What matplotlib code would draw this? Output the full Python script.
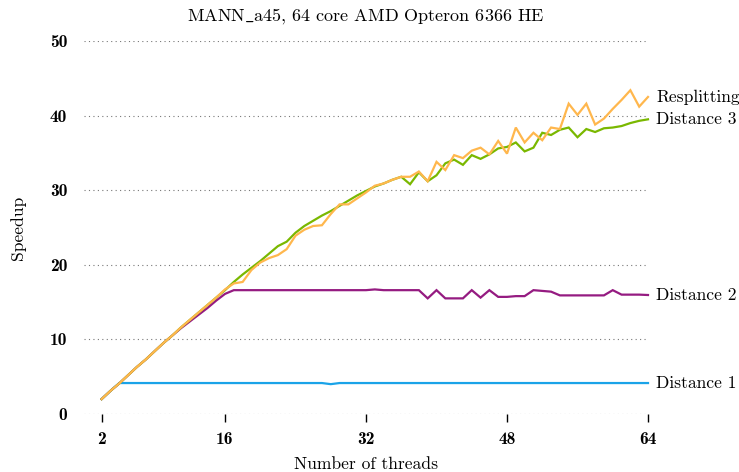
import numpy as np
import matplotlib
matplotlib.use("Agg")
import matplotlib.pyplot as plt

plt.rcParams["mathtext.fontset"] = "cm"

threads = list(range(2, 65))

distance_1 = [2.0, 3.1] + [4.15] * 24 + [4.0] + [4.15] * 36

distance_2 = [
    2.0, 3.1, 4.1, 5.2, 6.3, 7.3, 8.4, 9.5, 10.5, 11.5,            # 2-11
    12.4, 13.3, 14.2, 15.2, 16.1, 16.6, 16.6, 16.6, 16.6, 16.6,     # 12-21
    16.6, 16.6, 16.6, 16.6, 16.6, 16.6, 16.6, 16.6, 16.6, 16.6,     # 22-31
    16.6, 16.7, 16.6, 16.6, 16.6, 16.6, 16.6, 15.5, 16.6, 15.5,     # 32-41
    15.5, 15.5, 16.6, 15.6, 16.6, 15.7, 15.7, 15.8, 15.8, 16.6,     # 42-51
    16.5, 16.4, 15.9, 15.9, 15.9, 15.9, 15.9, 15.9, 16.6, 16.0,     # 52-61
    16.0, 16.0, 15.95,                                             # 62-64
]

distance_3 = [
    2.0, 3.1, 4.1, 5.2, 6.3, 7.3, 8.4, 9.5, 10.5, 11.6,            # 2-11
    12.6, 13.6, 14.6, 15.6, 16.6, 17.7, 18.7, 19.6, 20.5, 21.5,     # 12-21
    22.5, 23.1, 24.3, 25.2, 25.9, 26.6, 27.2, 27.9, 28.6, 29.3,     # 22-31
    29.9, 30.5, 30.9, 31.4, 31.8, 30.8, 32.4, 31.2, 32.0, 33.6,     # 32-41
    34.1, 33.4, 34.7, 34.2, 34.8, 35.6, 35.8, 36.4, 35.2, 35.7,     # 42-51
    37.7, 37.4, 38.1, 38.4, 37.1, 38.2, 37.8, 38.3, 38.4, 38.6,     # 52-61
    39.0, 39.3, 39.5,                                              # 62-64
]

resplitting = [
    2.0, 3.1, 4.1, 5.2, 6.3, 7.3, 8.4, 9.5, 10.5, 11.6,            # 2-11
    12.6, 13.6, 14.6, 15.6, 16.7, 17.5, 17.7, 19.3, 20.3, 20.9,     # 12-21
    21.3, 22.1, 23.9, 24.7, 25.2, 25.3, 26.8, 28.1, 28.1, 28.9,     # 22-31
    29.7, 30.6, 30.9, 31.4, 31.8, 31.8, 32.5, 31.2, 33.8, 32.7,     # 32-41
    34.7, 34.3, 35.3, 35.7, 34.8, 36.6, 34.9, 38.4, 36.4, 37.7,     # 42-51
    36.7, 38.4, 38.2, 41.6, 40.1, 41.6, 38.8, 39.6, 40.9, 42.1,     # 52-61
    43.4, 41.2, 42.5,                                              # 62-64
]

series = [
    ("Distance 1", distance_1, "#1aa3e8"),
    ("Distance 2", distance_2, "#951b81"),
    ("Distance 3", distance_3, "#7ab800"),
    ("Resplitting", resplitting, "#ffb74d"),
]

x_ticks = [2, 16, 32, 48, 64]
y_ticks = [0, 10, 20, 30, 40, 50]

FS = 12.6

fig = plt.figure(figsize=(7.39, 4.72), dpi=100)
ax = fig.add_axes([84 / 739, 1 - 414 / 472, (648 - 84) / 739, (414 - 41) / 472])

for name, values, color in series:
    ax.plot(threads, values, color=color, linewidth=1.6, solid_joinstyle="miter",
            clip_on=False)
    ax.text(threads[-1] + 0.9, values[-1], name, family="cmr10", fontsize=FS,
            va="center", ha="left")

ax.set_xlim(0, 64)
ax.set_ylim(0, 50)
ax.set_xticks(x_ticks)
ax.set_yticks(y_ticks)
for lbl in ax.get_xticklabels() + ax.get_yticklabels():
    lbl.set_family("cmb10")
    lbl.set_fontsize(FS)

ax.tick_params(axis="x", direction="out", length=6, width=1.0, pad=7)
ax.tick_params(axis="y", length=0, pad=12)
for s in ax.spines.values():
    s.set_visible(False)

ax.yaxis.grid(True, linestyle=(0, (1, 3)), linewidth=0.8, color="#777777")
ax.set_axisbelow(True)

ax.set_xlabel("Number of threads", family="cmr10", fontsize=FS, labelpad=7)
ax.set_ylabel("Speedup", family="cmr10", fontsize=FS, labelpad=17)
ax.set_title(r"MANN$\_$a45, 64 core AMD Opteron 6366 HE", family="cmr10",
             fontsize=13, pad=15)

fig.savefig("out.png", dpi=100)
